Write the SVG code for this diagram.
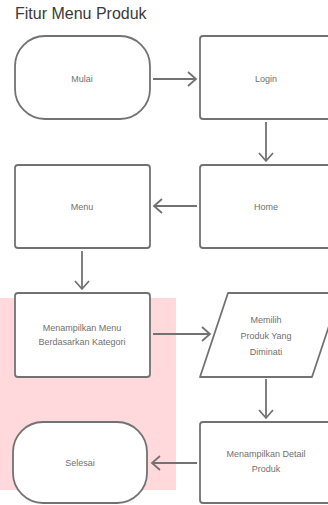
<svg xmlns="http://www.w3.org/2000/svg" width="328" height="505" viewBox="0 0 328 505">
<style>
.n{fill:#fff;stroke:#727272;stroke-width:1.8}
.t{font-family:"Liberation Sans",Arial,sans-serif;font-size:9px;fill:#707070;text-anchor:middle}
.c{fill:none;stroke:#727272;stroke-width:1.8}
</style>
<defs>
<marker id="ah" markerWidth="12" markerHeight="16" refX="10" refY="8" orient="auto" markerUnits="userSpaceOnUse">
<path d="M2,1 L10,8 L2,15" fill="none" stroke="#727272" stroke-width="1.8"/>
</marker>
</defs>
<rect x="0" y="298" width="176" height="192" fill="#ffd9dc"/>
<text x="15" y="19" font-family="Liberation Sans,Arial,sans-serif" font-size="16" fill="#3a3a3a">Fitur Menu Produk</text>
<g id="mulai"><rect class="n" x="15" y="36" width="135" height="83" rx="30"/><text class="t" x="82" y="82">Mulai</text></g>
<g id="login"><rect class="n" x="200" y="36" width="135" height="83" rx="3"/><text class="t" x="266" y="82">Login</text></g>
<g id="menu"><rect class="n" x="15" y="165" width="135" height="83" rx="3"/><text class="t" x="82" y="210">Menu</text></g>
<g id="home"><rect class="n" x="200" y="165" width="135" height="83" rx="3"/><text class="t" x="266" y="210">Home</text></g>
<g id="menampilkan"><rect class="n" x="15" y="293" width="135" height="84" rx="3"/><text class="t" x="82" y="331">Menampilkan Menu</text><text class="t" x="82" y="345">Berdasarkan Kategori</text></g>
<g id="memilih"><path class="n" d="M228,293 L340,293 L312,377 L200,377 Z" stroke-linejoin="round"/><text class="t" x="266" y="323">Memilih</text><text class="t" x="266" y="339">Produk Yang</text><text class="t" x="266" y="355">Diminati</text></g>
<g id="detail"><rect class="n" x="200" y="422" width="135" height="81" rx="3"/><text class="t" x="266" y="457">Menampilkan Detail</text><text class="t" x="266" y="472">Produk</text></g>
<g id="selesai"><rect class="n" x="13" y="422" width="134" height="81" rx="30"/><text class="t" x="80" y="466">Selesai</text></g>
<g id="connectors">
<line class="c" x1="153" y1="79" x2="196" y2="79" marker-end="url(#ah)"/>
<line class="c" x1="266" y1="122" x2="266" y2="161" marker-end="url(#ah)"/>
<line class="c" x1="197" y1="206" x2="154" y2="206" marker-end="url(#ah)"/>
<line class="c" x1="82" y1="251" x2="82" y2="289" marker-end="url(#ah)"/>
<line class="c" x1="153" y1="334" x2="210" y2="334" marker-end="url(#ah)"/>
<line class="c" x1="266" y1="379" x2="266" y2="418" marker-end="url(#ah)"/>
<line class="c" x1="197" y1="463" x2="152" y2="463" marker-end="url(#ah)"/>
</g>
</svg>
